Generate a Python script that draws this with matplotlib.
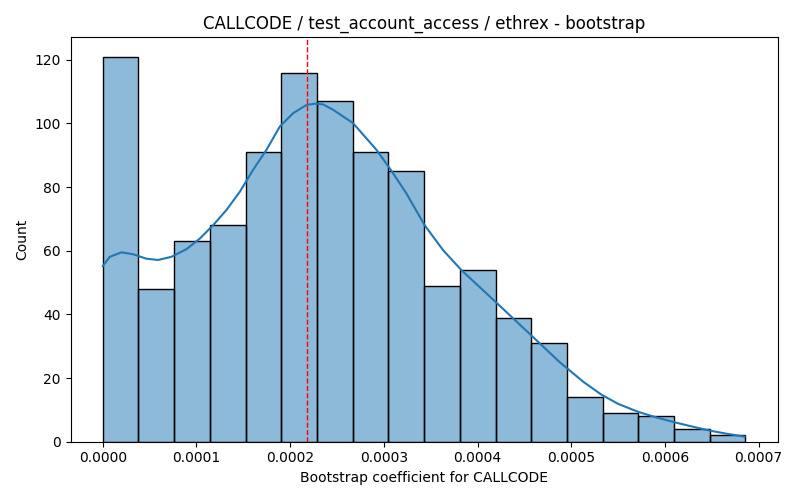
import numpy as np
import matplotlib.pyplot as plt

# histogram counts per bin (18 equal bins)
counts = [121, 48, 63, 68, 91, 116, 107, 91, 85, 49, 54, 39, 31, 14, 9, 8, 4, 2]
x_min = 0.0
x_max = 0.000686
mean_line = 0.0002177

# kde curve (x, count)
kde_x = [0.0, 0.0000075, 0.0000200, 0.0000324, 0.0000466, 0.0000590,
         0.0000733, 0.0000893, 0.0001035, 0.0001177, 0.0001320, 0.0001462,
         0.0001604, 0.0001747, 0.0001889, 0.0002031, 0.0002174, 0.0002260,
         0.0002350, 0.0002458, 0.0002671, 0.0002921, 0.0003063, 0.0003241,
         0.0003436, 0.0003632, 0.0003828, 0.0004183, 0.0004592, 0.0004877,
         0.0005130, 0.0005322, 0.0005500, 0.0005713, 0.0005900, 0.0006105,
         0.0006300, 0.0006478, 0.0006660, 0.0006850]
kde_y = [55.2, 58.1, 59.5, 58.9, 57.5, 57.1, 58.1, 60.5, 63.8, 68.0, 72.8,
         78.5, 85.4, 91.7, 99.0, 103.2, 105.8, 106.2, 106.0, 104.3, 100.1,
         91.7, 85.9, 78.0, 68.0, 60.2, 53.9, 44.2, 32.9, 25.0, 18.8, 14.8,
         11.9, 9.4, 7.7, 6.1, 4.7, 3.5, 2.5, 1.6]

def make_plot():
    edges = np.linspace(x_min, x_max, len(counts) + 1)
    fig, ax = plt.subplots(figsize=(8, 5), dpi=100)
    ax.bar(edges[:-1], counts, width=np.diff(edges), align="edge",
           color="#1f77b4", alpha=0.5, edgecolor="none")
    ax.bar(edges[:-1], counts, width=np.diff(edges), align="edge",
           facecolor="none", edgecolor="black", linewidth=1)
    ax.plot(kde_x, kde_y, color="#1f77b4", linewidth=1.5)
    ax.axvline(mean_line, color="red", linestyle="--", linewidth=1)
    ax.set_xlabel("Bootstrap coefficient for CALLCODE")
    ax.set_ylabel("Count")
    ax.set_title("CALLCODE / test_account_access / ethrex - bootstrap")
    ax.set_xticks(np.arange(0, 0.00071, 0.0001))
    ax.set_xticklabels([f"{v:.4f}" for v in np.arange(0, 0.00071, 0.0001)])
    fig.tight_layout()
    fig.savefig("out.png", dpi=100)
    plt.close(fig)

if __name__ == "__main__":
    make_plot()
